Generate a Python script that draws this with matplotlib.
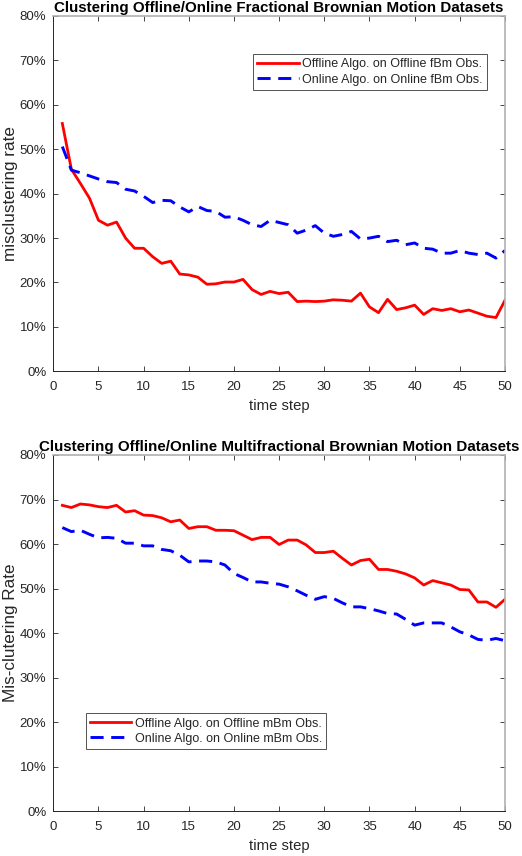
import matplotlib
matplotlib.use("Agg")
import matplotlib.pyplot as plt
from matplotlib.ticker import FuncFormatter, MultipleLocator

plt.rcParams['font.family'] = ['Liberation Sans', 'DejaVu Sans']

steps = list(range(1, 51))

fbm_offline = [55.8, 45.5, 42.3, 39.0, 34.0, 32.9, 33.6, 30.0, 27.7, 27.7,
               25.8, 24.3, 24.8, 21.9, 21.7, 21.2, 19.6, 19.7, 20.1, 20.1,
               20.7, 18.4, 17.3, 18.0, 17.5, 17.8, 15.7, 15.8, 15.7, 15.8,
               16.1, 16.0, 15.8, 17.6, 14.5, 13.2, 16.2, 13.9, 14.3, 14.9,
               12.8, 14.1, 13.7, 14.1, 13.4, 13.8, 13.1, 12.4, 12.1, 16.0]
fbm_online = [50.6, 45.3, 44.7, 44.0, 43.3, 42.7, 42.5, 41.0, 40.6, 39.4,
              38.0, 38.5, 38.4, 37.0, 35.9, 37.1, 36.2, 36.0, 34.7, 34.8,
              34.0, 33.0, 32.6, 34.0, 33.5, 33.0, 31.1, 31.8, 32.8, 31.1,
              30.4, 30.8, 31.5, 29.8, 30.0, 30.4, 29.2, 29.5, 28.5, 28.9,
              27.7, 27.5, 26.6, 26.6, 27.2, 26.6, 26.3, 26.6, 25.5, 27.2]

mbm_offline = [68.7, 68.2, 69.0, 68.8, 68.4, 68.2, 68.7, 67.2, 67.5, 66.5,
               66.4, 65.9, 65.0, 65.4, 63.5, 63.9, 63.9, 63.1, 63.1, 63.0,
               62.0, 61.0, 61.5, 61.5, 59.9, 60.9, 60.9, 59.8, 58.1, 58.1,
               58.4, 56.8, 55.3, 56.3, 56.6, 54.3, 54.3, 53.9, 53.3, 52.4,
               50.8, 51.8, 51.3, 50.8, 49.8, 49.7, 47.0, 47.0, 45.8, 47.6]
mbm_online = [63.7, 62.8, 63.1, 62.2, 61.4, 61.5, 61.3, 60.2, 60.2, 59.6,
              59.6, 58.8, 58.5, 57.5, 56.0, 56.2, 56.2, 56.0, 55.3, 53.4,
              52.5, 51.5, 51.5, 51.2, 51.0, 50.4, 49.5, 48.5, 47.6, 48.2,
              47.8, 46.8, 45.9, 45.9, 45.5, 45.0, 44.4, 44.3, 43.1, 41.8,
              42.3, 42.3, 42.3, 41.4, 40.3, 39.6, 38.6, 38.4, 38.8, 38.3]

titles = ["Clustering Offline/Online Fractional Brownian Motion Datasets",
          "Clustering Offline/Online Multifractional Brownian Motion Datasets"]
ylabels = ["misclustering rate", "Mis-clutering Rate"]
labels_top = ["Offline Algo. on Offline fBm Obs.", "Online Algo. on Online fBm Obs."]
labels_bot = ["Offline Algo. on Offline mBm Obs.", "Online Algo. on Online mBm Obs."]

W, H = 522, 856
fig = plt.figure(figsize=(W / 100, H / 100), dpi=100)

dark = '#262626'

def make_ax(rect, off, on, title, ylabel, labels, leg_rect):
    ax = fig.add_axes(rect)
    ax.plot(steps, off, color='#ff0000', lw=2.0, label=labels[0], solid_joinstyle='round')
    ax.plot(steps, on, color='#0000ff', lw=2.1, linestyle=(0, (4.5, 2.6)), label=labels[1])
    ax.set_xlim(0, 50)
    ax.set_ylim(0, 80)
    ax.xaxis.set_major_locator(MultipleLocator(5))
    ax.yaxis.set_major_locator(MultipleLocator(10))
    ax.yaxis.set_major_formatter(FuncFormatter(lambda v, p: f"{int(round(v))}%"))
    ax.tick_params(direction='in', length=3.5, width=0.6, top=True, right=True,
                   labelsize=9.5, colors=dark)
    ax.tick_params(axis='x', pad=7)
    ax.tick_params(axis='y', pad=5)
    for s in ['left', 'bottom']:
        ax.spines[s].set_color(dark)
        ax.spines[s].set_linewidth(0.7)
    for s in ['top', 'right']:
        ax.spines[s].set_color('#b0b0b0')
        ax.spines[s].set_linewidth(1.2)
    ax.set_title(title, fontsize=10.9, fontweight='bold', color='black', pad=3)
    ax.set_ylabel(ylabel, fontsize=12.3, color=dark, labelpad=1)
    ax.set_xlabel("time step", fontsize=10.7, color=dark, labelpad=4)
    leg = ax.legend(loc='lower left', bbox_to_anchor=leg_rect, mode='expand',
                    fontsize=9, frameon=True, fancybox=False, handlelength=3.3,
                    handletextpad=0.3, borderpad=0.35, labelspacing=0.25,
                    borderaxespad=0)
    leg.get_frame().set_edgecolor(dark)
    leg.get_frame().set_linewidth(0.7)
    for t in leg.get_texts():
        t.set_color(dark)
    return ax

x0, x1 = 53.3, 505.0
r_top = [x0 / W, 1 - 371.3 / H, (x1 - x0) / W, (371.3 - 16) / H]
r_bot = [x0 / W, 1 - 811.3 / H, (x1 - x0) / W, (811.3 - 455) / H]

def leg_box(rect_px, ax_top_px, ax_bot_px):
    lx0, ly0, lx1, ly1 = rect_px
    h = ax_bot_px - ax_top_px
    return ((lx0 - x0) / (x1 - x0), (ax_bot_px - ly1) / h,
            (lx1 - lx0) / (x1 - x0), (ly1 - ly0) / h)

make_ax(r_top, fbm_offline, fbm_online, titles[0], ylabels[0], labels_top,
        leg_box((253, 54.3, 487, 90), 16, 371.3))
make_ax(r_bot, mbm_offline, mbm_online, titles[1], ylabels[1], labels_bot,
        leg_box((85.7, 713.3, 325.7, 749), 455, 811.3))

fig.savefig("out.png", dpi=100)
